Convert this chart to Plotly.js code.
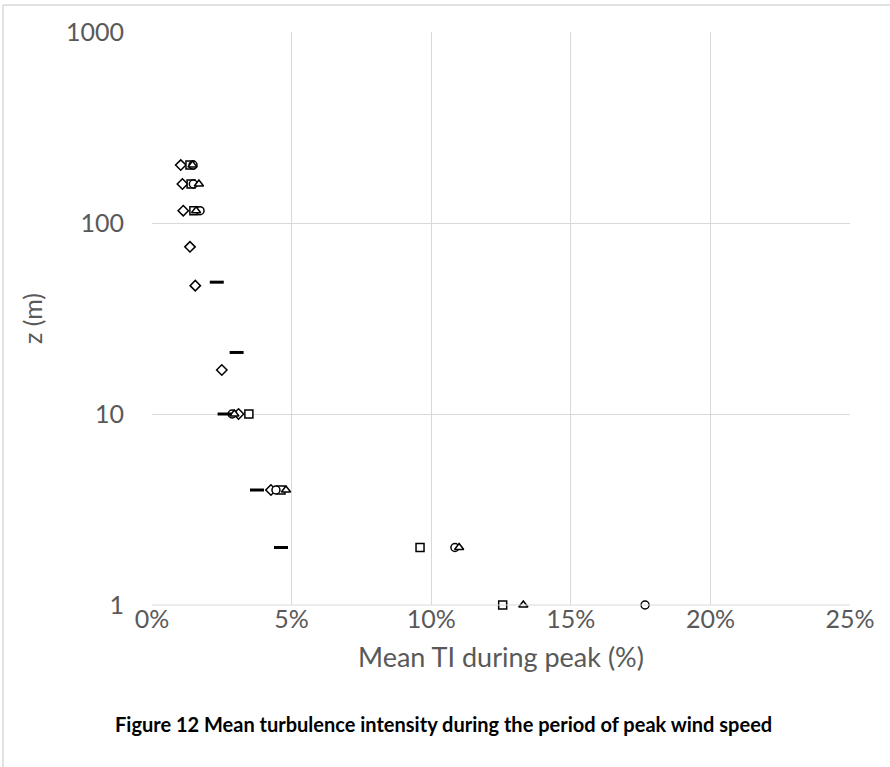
<!DOCTYPE html>
<html>
<head>
<meta charset="utf-8">
<script src="https://cdn.plot.ly/plotly-3.0.1.min.js"></script>
<style>html,body{margin:0;padding:0;background:#fff;}#chart{width:890px;height:767px;}</style>
</head>
<body>
<div id="chart"></div>
<script>
// Mean TI (%) vs height z (m)
const diamondZ = [201, 160, 116, 75, 47, 17, 10, 4];
const diamondTI = [1.03, 1.09, 1.12, 1.36, 1.55, 2.5, 3.1, 4.26];

const squareZ = [201, 160, 116, 10, 4, 2, 1];
const squareTI = [1.36, 1.4, 1.5, 3.47, 4.62, 9.6, 12.56];

const triangleZ = [201, 160, 116, 10, 4, 2, 1];
const triangleTI = [1.45, 1.68, 1.58, 2.95, 4.8, 11.0, 13.3];

const circleZ = [201, 160, 116, 10, 4, 2, 1];
const circleTI = [1.47, 1.48, 1.72, 2.87, 4.44, 10.85, 17.66];

const dashZ = [49, 21, 10, 4, 2];
const dashTI = [2.32, 3.03, 2.6, 3.76, 4.62];

const xTicks = [0, 5, 10, 15, 20, 25];
const xTickText = ['0%', '5%', '10%', '15%', '20%', '25%'];
const yTicks = [1, 10, 100, 1000];
const yTickText = ['1', '10', '100', '1000'];

function openTrace(x, y, symbol, size) {
  return {
    x: x, y: y, type: 'scatter', mode: 'markers', hoverinfo: 'skip', cliponaxis: false,
    marker: { symbol: symbol, size: size, color: '#ffffff', line: { color: '#000000', width: 1.5 } }
  };
}

const traces = [
  openTrace(diamondTI, diamondZ, 'diamond', 8),
  openTrace(squareTI, squareZ, 'square', 8),
  openTrace(circleTI, circleZ, 'circle', 8),
  openTrace(triangleTI, triangleZ, 'triangle-up', 8),
  {
    x: dashTI, y: dashZ, type: 'scatter', mode: 'markers', hoverinfo: 'skip', cliponaxis: false,
    marker: { symbol: 'line-ew', size: 10, line: { color: '#000000', width: 3 } }
  }
];

const FONT = 'Lato, "Open Sans", sans-serif';

const layout = {
  width: 890, height: 767,
  margin: { l: 152, r: 40, t: 32, b: 162 },
  paper_bgcolor: '#ffffff', plot_bgcolor: '#ffffff',
  showlegend: false,
  font: { family: FONT, color: '#595959' },
  xaxis: {
    range: [0, 25], tickvals: xTicks, ticktext: xTickText,
    showgrid: true, gridcolor: '#d9d9d9', gridwidth: 1,
    zeroline: false, showline: false, ticks: '',
    ticklabelstandoff: -3,
    tickfont: { size: 25, color: '#595959' },
    title: { text: 'Mean TI during peak (%)', font: { size: 27, color: '#595959' }, standoff: 16 }
  },
  yaxis: {
    type: 'log', range: [0, 3], tickvals: yTicks, ticktext: yTickText,
    showgrid: true, gridcolor: '#d9d9d9', gridwidth: 1,
    zeroline: false, showline: false, ticks: '',
    ticklabelstandoff: 27,
    tickfont: { size: 25, color: '#595959' },
    title: { text: 'z (m)', font: { size: 25, color: '#595959' }, standoff: 16 }
  },
  shapes: [
    { type: 'line', xref: 'paper', yref: 'paper', x0: 0, x1: 1, y0: 0, y1: 0, line: { color: '#d9d9d9', width: 1 } },
    { type: 'line', xref: 'paper', yref: 'paper', x0: -0.2135, x1: -0.2135, y0: 1.047, y1: -0.29, line: { color: '#d9d9d9', width: 1.5 } },
    { type: 'line', xref: 'paper', yref: 'paper', x0: -0.2135, x1: 1.06, y0: 1.047, y1: 1.047, line: { color: '#d9d9d9', width: 1.5 } }
  ],
  annotations: [
    {
      xref: 'paper', yref: 'paper', x: 0.418, y: -0.207, xanchor: 'center', yanchor: 'middle',
      text: '<b>Figure 12 Mean turbulence intensity during the period of peak wind speed</b>',
      showarrow: false, font: { size: 20, color: '#000000', family: FONT }
    }
  ]
};

Plotly.newPlot('chart', traces, layout, { staticPlot: true, displayModeBar: false });
</script>
</body>
</html>
